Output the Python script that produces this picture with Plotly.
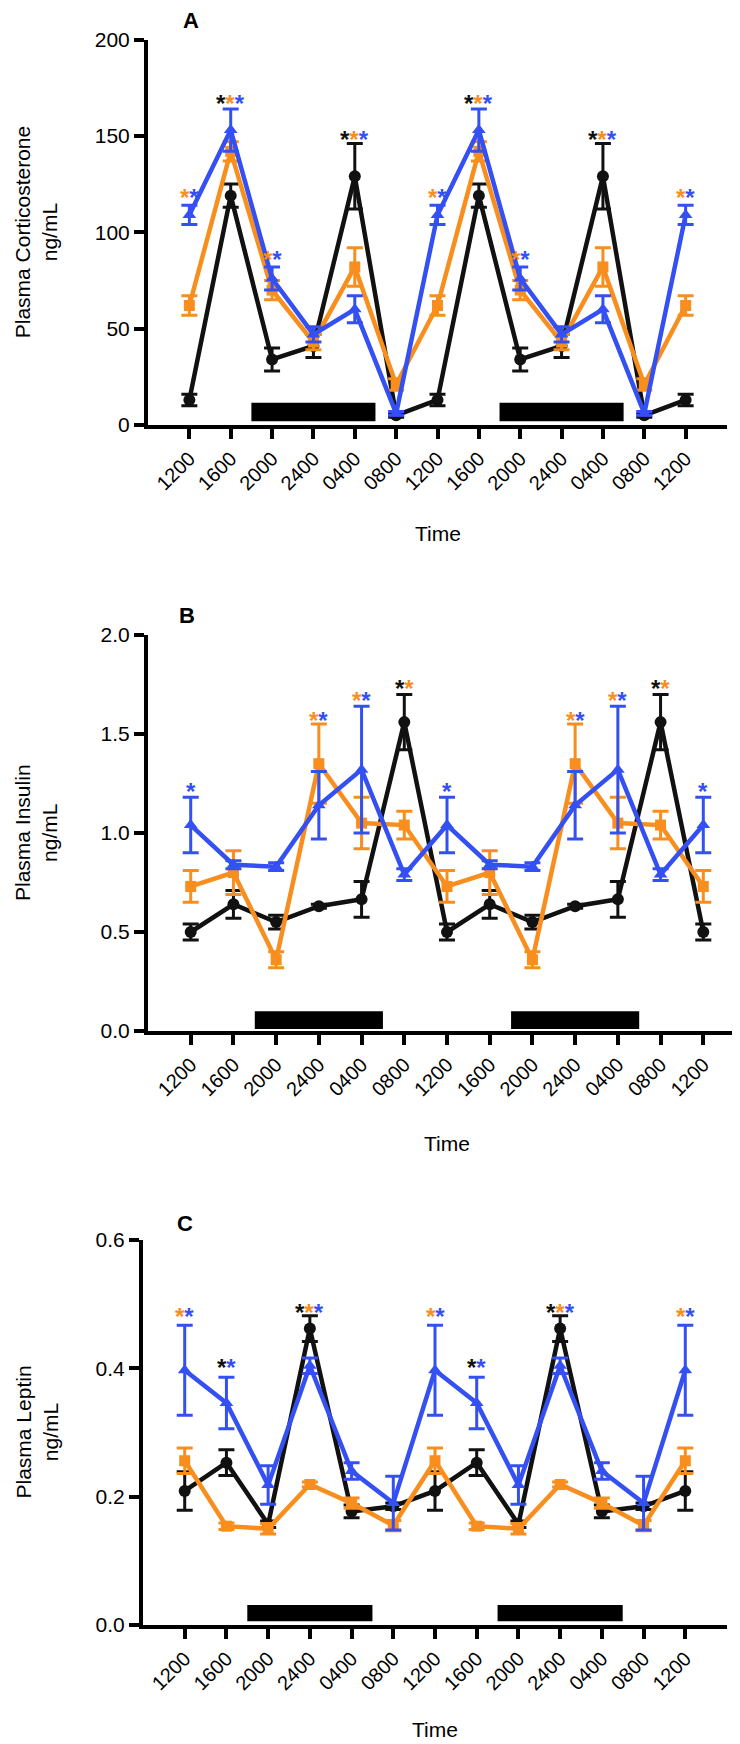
import plotly.graph_objects as go

W, H = 740, 1744

time_labels = ["1200", "1600", "2000", "2400", "0400", "0800", "1200",
               "1600", "2000", "2400", "0400", "0800", "1200"]

# Panel A - Corticosterone (ng/mL)
cort_black = [13, 119, 34, 41, 129, 5, 13, 119, 34, 41, 129, 5, 13]
cort_black_err = [3, 6, 6, 6, 17, 1, 3, 6, 6, 6, 17, 1, 3]
cort_orange = [62, 142, 70, 43, 82, 21, 62, 142, 70, 43, 82, 21, 62]
cort_orange_err = [5, 5, 5, 4, 10, 3, 5, 5, 5, 4, 10, 3, 5]
cort_blue = [109, 153, 76, 47, 60, 6, 109, 153, 76, 47, 60, 6, 109]
cort_blue_err = [5, 11, 6, 4, 7, 1, 5, 11, 6, 4, 7, 1, 5]

# Panel B - Insulin (ng/mL)
ins_black = [0.50, 0.64, 0.55, 0.63, 0.665, 1.56, 0.50, 0.64, 0.55, 0.63, 0.665, 1.56, 0.50]
ins_black_err = [0.04, 0.07, 0.035, 0.01, 0.09, 0.14, 0.04, 0.07, 0.035, 0.01, 0.09, 0.14, 0.04]
ins_orange = [0.73, 0.80, 0.36, 1.35, 1.05, 1.04, 0.73, 0.80, 0.36, 1.35, 1.05, 1.04, 0.73]
ins_orange_err = [0.08, 0.11, 0.04, 0.20, 0.13, 0.07, 0.08, 0.11, 0.04, 0.20, 0.13, 0.07, 0.08]
ins_blue = [1.04, 0.84, 0.83, 1.14, 1.32, 0.79, 1.04, 0.84, 0.83, 1.14, 1.32, 0.79, 1.04]
ins_blue_err = [0.14, 0.02, 0.02, 0.17, 0.32, 0.03, 0.14, 0.02, 0.02, 0.17, 0.32, 0.03, 0.14]

# Panel C - Leptin (ng/mL)
lep_black = [0.209, 0.253, 0.157, 0.462, 0.177, 0.185, 0.209, 0.253, 0.157, 0.462, 0.177, 0.185, 0.209]
lep_black_err = [0.03, 0.02, 0.005, 0.02, 0.01, 0.005, 0.03, 0.02, 0.005, 0.02, 0.01, 0.005, 0.03]
lep_orange = [0.256, 0.154, 0.150, 0.219, 0.190, 0.155, 0.256, 0.154, 0.150, 0.219, 0.190, 0.155, 0.256]
lep_orange_err = [0.02, 0.005, 0.008, 0.004, 0.008, 0.008, 0.02, 0.005, 0.008, 0.004, 0.008, 0.008, 0.02]
lep_blue = [0.397, 0.346, 0.218, 0.404, 0.240, 0.190, 0.397, 0.346, 0.218, 0.404, 0.240, 0.190, 0.397]
lep_blue_err = [0.07, 0.04, 0.03, 0.012, 0.013, 0.042, 0.07, 0.04, 0.03, 0.012, 0.013, 0.042, 0.07]

# Dark phase bars (x index start/end, y low/high)
night_start = [1.5, 7.5]
night_end = [4.5, 10.5]
night_y_A = [2, 11.5]
night_y_B = [0.01, 0.10]
night_y_C = [0.006, 0.031]

# Significance stars: (x index, y value, colour keys)
stars_A = [(0, 121, "ob"), (1, 170, "kob"), (2, 89, "ob"), (4, 151, "kob"),
           (6, 121, "ob"), (7, 170, "kob"), (8, 89, "ob"), (10, 151, "kob"),
           (12, 121, "ob")]
stars_B = [(0, 1.24, "b"), (3, 1.60, "ob"), (4, 1.70, "ob"), (5, 1.76, "ko"),
           (6, 1.24, "b"), (9, 1.60, "ob"), (10, 1.70, "ob"), (11, 1.76, "ko"),
           (12, 1.24, "b")]
stars_C = [(0, 0.490, "ob"), (1, 0.410, "kb"), (3, 0.497, "kob"),
           (6, 0.490, "ob"), (7, 0.410, "kb"), (9, 0.497, "kob"),
           (12, 0.490, "ob")]

BLACK = "#111111"
ORANGE = "#F78E1E"
BLUE = "#3450F2"
CMAP = {"k": BLACK, "o": ORANGE, "b": BLUE}
FONT = "Liberation Sans, Arial, sans-serif"

xs = list(range(len(time_labels)))


def px(xp):
    return xp / W


def py(yp):
    return 1 - yp / H


panels = [
    dict(ax="", black=(cort_black, cort_black_err), orange=(cort_orange, cort_orange_err),
         blue=(cort_blue, cort_blue_err), xdom=[140, 719], ydom=[417, 31.5], yr=[0, 200],
         tickvals=[0, 50, 100, 150, 200], ticktext=["0", "50", "100", "150", "200"],
         title="Plasma Corticosterone<br>ng/mL", letter="A", letter_pos=(183, 12),
         night_y=night_y_A, stars=stars_A, time_y=525),
    dict(ax="2", black=(ins_black, ins_black_err), orange=(ins_orange, ins_orange_err),
         blue=(ins_blue, ins_blue_err), xdom=[140, 738], ydom=[1023, 627], yr=[0, 2],
         tickvals=[0, 0.5, 1.0, 1.5, 2.0], ticktext=["0.0", "0.5", "1.0", "1.5", "2.0"],
         title="Plasma Insulin<br>ng/mL", letter="B", letter_pos=(179, 607),
         night_y=night_y_B, stars=stars_B, time_y=1135),
    dict(ax="3", black=(lep_black, lep_black_err), orange=(lep_orange, lep_orange_err),
         blue=(lep_blue, lep_blue_err), xdom=[135, 719], ydom=[1617, 1232], yr=[0, 0.6],
         tickvals=[0, 0.2, 0.4, 0.6], ticktext=["0.0", "0.2", "0.4", "0.6"],
         title="Plasma Leptin<br>ng/mL", letter="C", letter_pos=(177, 1215),
         night_y=night_y_C, stars=stars_C, time_y=1721),
]

fig = go.Figure()
annotations = []
shapes = []
layout_axes = {}

for p in panels:
    a = p["ax"]
    xref = "x" + a
    yref = "y" + a
    series = [("black", BLACK, "circle", 12), ("orange", ORANGE, "square", 11),
              ("blue", BLUE, "triangle-up", 12)]
    for key, col, sym, ms in series:
        vals, errs = p[key]
        fig.add_trace(go.Scatter(
            x=xs, y=vals, xaxis=xref, yaxis=yref, mode="lines+markers",
            line=dict(color=col, width=4.5),
            marker=dict(symbol=sym, size=ms, color=col),
            error_y=dict(type="data", array=errs, visible=True, color=col,
                         thickness=3, width=8),
            cliponaxis=False, showlegend=False, hoverinfo="skip"))

    for s, e in zip(night_start, night_end):
        shapes.append(dict(type="rect", xref=xref, yref=yref, x0=s, x1=e,
                           y0=p["night_y"][0], y1=p["night_y"][1],
                           fillcolor="black", line=dict(width=0), layer="above"))

    for idx, yv, cols in p["stars"]:
        txt = "".join(f'<span style="color:{CMAP[c]}">*</span>' for c in cols)
        annotations.append(dict(x=idx, y=yv, xref=xref, yref=yref, text="<b>" + txt + "</b>",
                                showarrow=False, font=dict(family=FONT, size=24),
                                xanchor="center", yanchor="middle", yshift=-6))

    xd = [px(p["xdom"][0]), px(p["xdom"][1])]
    yd = [py(p["ydom"][0]), py(p["ydom"][1])]
    layout_axes["xaxis" + a] = dict(
        domain=xd, anchor=yref, range=[-1, 13], tickvals=xs, ticktext=time_labels,
        tickangle=-45, showline=True, linewidth=4, linecolor="black",
        ticks="outside", ticklen=10, tickwidth=3.5, tickcolor="black",
        showgrid=False, zeroline=False, automargin=False,
        tickfont=dict(family=FONT, size=20, color="black"))
    layout_axes["yaxis" + a] = dict(
        domain=yd, anchor=xref, range=p["yr"], tickvals=p["tickvals"], ticktext=p["ticktext"],
        showline=True, linewidth=4, linecolor="black",
        ticks="outside", ticklen=10, tickwidth=3.5, tickcolor="black",
        showgrid=False, zeroline=False, automargin=False,
        tickfont=dict(family=FONT, size=21, color="black"))

    ymid = (p["ydom"][0] + p["ydom"][1]) / 2
    annotations.append(dict(x=px(28), y=py(ymid), xref="paper", yref="paper",
                            text=p["title"], textangle=-90, showarrow=False,
                            font=dict(family=FONT, size=21, color="black"),
                            xanchor="center", yanchor="middle"))
    annotations.append(dict(x=px((p["xdom"][0] + p["xdom"][1]) / 2), y=py(p["time_y"]),
                            xref="paper", yref="paper", text="Time", showarrow=False,
                            font=dict(family=FONT, size=21, color="black"),
                            xanchor="center", yanchor="middle"))
    lx, ly = p["letter_pos"]
    annotations.append(dict(x=px(lx), y=py(ly), xref="paper", yref="paper",
                            text="<b>" + p["letter"] + "</b>", showarrow=False,
                            font=dict(family=FONT, size=22, color="black"),
                            xanchor="center", yanchor="middle"))

fig.update_layout(
    width=W, height=H, autosize=False,
    margin=dict(l=0, r=0, t=0, b=0),
    paper_bgcolor="white", plot_bgcolor="white",
    annotations=annotations, shapes=shapes,
    **layout_axes)

fig.write_html("out.html")
